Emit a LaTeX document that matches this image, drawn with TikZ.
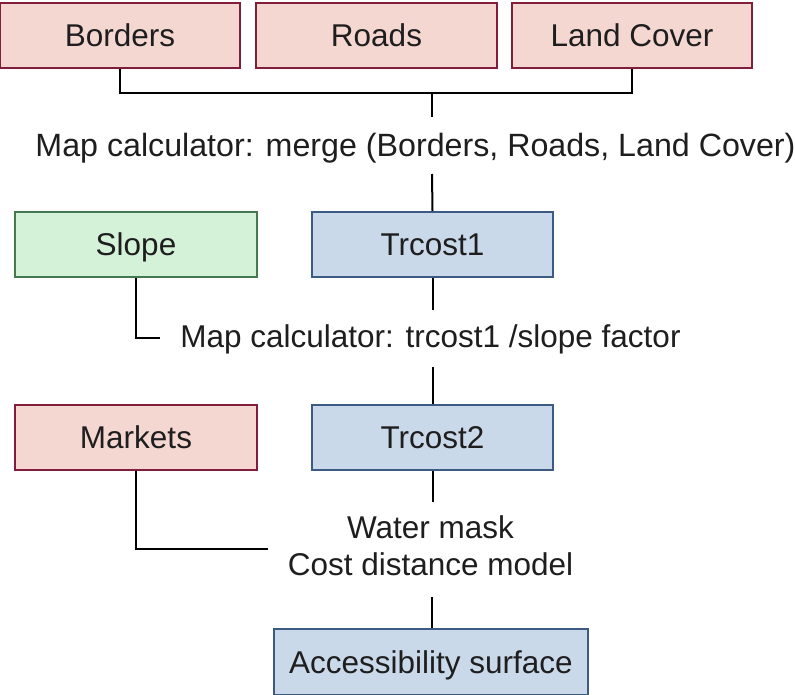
\documentclass[tikz,border=0pt]{standalone}
\usepackage{fontspec}
\setmainfont{Liberation Sans}
\definecolor{pinkfill}{RGB}{245,215,210}
\definecolor{pinkline}{RGB}{130,30,60}
\definecolor{greenfill}{RGB}{212,242,216}
\definecolor{greenline}{RGB}{70,120,80}
\definecolor{bluefill}{RGB}{201,217,234}
\definecolor{blueline}{RGB}{60,90,130}
\definecolor{txt}{RGB}{30,30,30}
\tikzset{
  box/.style={draw, line width=2pt, minimum height=65pt, inner sep=0pt,
    text height=22.5pt, text depth=0pt, text=txt,
    font=\fontsize{31.5}{37}\selectfont},
  pinkbox/.style={box, fill=pinkfill, draw=pinkline, minimum width=240pt},
  greenbox/.style={box, fill=greenfill, draw=greenline, minimum width=242pt},
  bluebox/.style={box, fill=bluefill, draw=blueline, minimum width=241pt},
  label/.style={inner sep=0pt, text=txt, text height=22.5pt, text depth=0pt,
    font=\fontsize{31.5}{37}\selectfont},
  conn/.style={draw=black, line width=2pt}
}
\begin{document}
\begin{tikzpicture}[x=1pt,y=-1pt]
\useasboundingbox[fill=white] (0,0) rectangle (795,695);
% top row
\node[pinkbox] (borders) at (120,35.5) {Borders};
\node[pinkbox, minimum width=241pt] (roads) at (376.5,35.5) {Roads};
\node[pinkbox] (land) at (632,35.5) {Land Cover};
% middle row
\node[greenbox] (slope) at (136,244.5) {Slope};
\node[bluebox] (tr1) at (432.5,244.5) {Trcost1};
\node[pinkbox, minimum width=242pt] (markets) at (136,437) {Markets};
\node[bluebox] (tr2) at (432.5,437.5) {Trcost2};
\node[bluebox, minimum width=314pt, minimum height=66pt] (acc) at (431,662) {Accessibility surface};
% labels
\node[label, font=\fontsize{32.2}{37}\selectfont] (merge) at (415.5,145) {Map calculator: merge (Borders, Roads, Land Cover)};
\node[label] (slopecalc) at (430.5,336) {Map calculator: trcost1 /slope factor};
\node[inner sep=0pt, text=txt, align=center, anchor=north,
  font=\fontsize{31.5}{37}\selectfont] (water) at (430.5,515) {Water mask\\Cost distance model};
% coordinates for connector ends
\coordinate (j1) at (432,92);
\coordinate (m1a) at (432,117);
\coordinate (m1b) at (432,174);
\coordinate (s1a) at (432.5,310);
\coordinate (s1b) at (432.5,367);
\coordinate (s1c) at (160,338);
\coordinate (w1a) at (432.5,502);
\coordinate (w1b) at (432,597);
\coordinate (w1c) at (268,549);
% connectors
\draw[conn] (borders.south) -- ++(0,24) -| (land.south);
\draw[conn] (j1) -- (m1a);
\draw[conn] (m1b) -- (tr1.north);
\draw[conn] (tr1.south) -- (s1a);
\draw[conn] (s1b) -- (tr2.north);
\draw[conn] (slope.south) |- (s1c);
\draw[conn] (tr2.south) -- (w1a);
\draw[conn] (w1b) -- (acc.north -| w1b);
\draw[conn] (markets.south) |- (w1c);
\end{tikzpicture}
\end{document}
